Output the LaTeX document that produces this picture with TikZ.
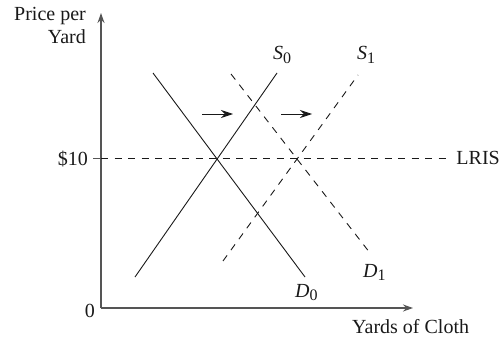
\documentclass[tikz,border=0pt]{standalone}
\usepackage{fontspec}
\setmainfont{Liberation Serif}
\usetikzlibrary{arrows.meta}
\definecolor{axisgray}{RGB}{85,85,85}
\definecolor{ink}{RGB}{25,25,25}
\newcommand{\curvelbl}[2]{\textit{#1}\raisebox{-0.35ex}{\fontsize{16}{16}\selectfont #2}}
\tikzset{
  >={Stealth[length=10pt,width=7pt]},
  axis line/.style={->,draw=axisgray,line width=1.4pt},
  curve/.style={draw=ink,line width=0.9pt},
  shifted/.style={curve,dash pattern=on 7pt off 6.5pt},
  shift arrow/.style={-{Stealth[length=12pt,width=8pt]},draw=ink,line width=0.9pt},
  lab/.style={font=\fontsize{20}{23}\selectfont,text=ink,inner sep=0pt},
}
\begin{document}
\begin{tikzpicture}[x=1pt,y=-1pt]
  \useasboundingbox (0,0) rectangle (502,339);
  % axes
  \coordinate (O) at (101,308);
  \coordinate (ytop) at (101,13);
  \coordinate (xend) at (413,308);
  \draw[axis line] (O) -- (ytop);
  \draw[axis line] (O) -- (xend);
  \node[lab,anchor=north east,align=right] (ylab) at (86,7) {Price per\\Yard};
  \node[lab,anchor=base west] (xlab) at (352,333) {Yards of Cloth};
  \node[lab,anchor=base east] (zero) at (95,317) {0};
  % long-run industry supply
  \coordinate (tick) at (93,158);
  \coordinate (lris end) at (452,158);
  \draw[axisgray,line width=1pt] (tick) -- (101,158);
  \draw[shifted] (101,158) -- (lris end);
  \node[lab,anchor=base east] (price) at (88,165) {\$10};
  \node[lab,anchor=base east] (lris) at (500,164) {LRIS};
  % initial curves
  \coordinate (s0 low) at (135,277);
  \coordinate (s0 high) at (277,73);
  \coordinate (d0 high) at (153,73);
  \coordinate (d0 low) at (305,277);
  \draw[curve] (s0 low) -- (s0 high);
  \draw[curve] (d0 high) -- (d0 low);
  \node[lab,anchor=base west] (s0) at (273,60) {\curvelbl{S}{0}};
  \node[lab,anchor=base west] (d0) at (295,297) {\curvelbl{D}{0}};
  % shifted curves
  \coordinate (s1 low) at (223,261);
  \coordinate (s1 high) at (358,75);
  \coordinate (d1 high) at (231,74);
  \coordinate (d1 low) at (370,253);
  \draw[shifted] (s1 low) -- (s1 high);
  \draw[shifted] (d1 high) -- (d1 low);
  \node[lab,anchor=base west] (s1) at (357,60) {\curvelbl{S}{1}};
  \node[lab,anchor=base west] (d1) at (363,277) {\curvelbl{D}{1}};
  % shift arrows
  \coordinate (a1) at (202,114);
  \coordinate (b1) at (233,114);
  \coordinate (a2) at (281,114);
  \coordinate (b2) at (312,114);
  \draw[shift arrow] (a1) -- (b1);
  \draw[shift arrow] (a2) -- (b2);
\end{tikzpicture}
\end{document}
